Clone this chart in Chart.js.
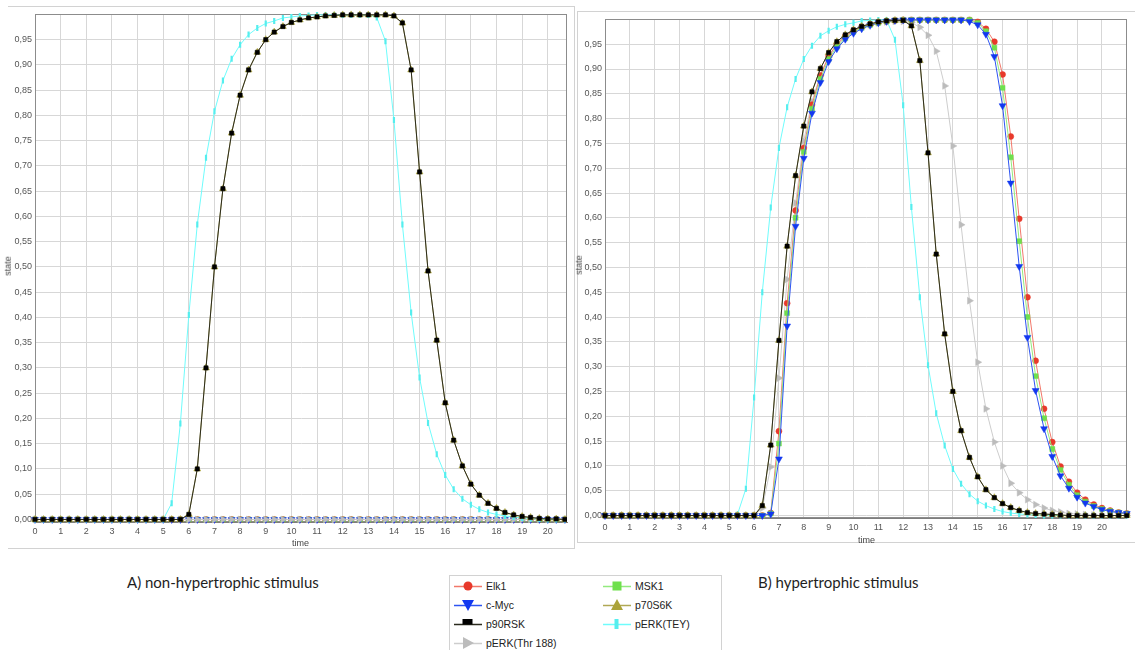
<!DOCTYPE html>
<html>
<head>
<meta charset="utf-8">
<script src="https://cdn.jsdelivr.net/npm/chart.js@4/dist/chart.umd.min.js"></script>
<style>
  html, body { margin: 0; padding: 0; background: #fff; }
  body { width: 1135px; height: 650px; position: relative; overflow: hidden; font-family: "Liberation Sans", Arial, sans-serif; }
  .panel { position: absolute; border: 1px solid #d2d2d2; box-sizing: border-box; }
  #panelA { left: 8px; top: 6px; width: 567px; height: 543px; border-left: none; }
  #panelB { left: 577px; top: 11px; width: 560px; height: 532px; border-right: none; }
  canvas { position: absolute; }
  .axisTitle { position: absolute; font-size: 9px; color: #444; }
  .stateTitle { transform: rotate(-90deg); transform-origin: center; }
  .caption { position: absolute; font-family: Lato, "Open Sans", sans-serif; font-size: 15px; color: #1e1e1e; top: 573px; }
  #legend { position: absolute; left: 449px; top: 575px; width: 273px; height: 80px; border: 1px solid #d2d2d2; box-sizing: border-box; }
  .item { position: absolute; font-size: 10.5px; color: #222; height: 14px; line-height: 14px; }
  .item svg { position: absolute; left: 0; top: 0; }
  .item span { position: absolute; left: 32px; top: 0; white-space: nowrap; }
</style>
</head>
<body>
<div class="panel" id="panelA"></div>
<div class="panel" id="panelB"></div>
<canvas id="chartA" width="566" height="542" style="left:8px;top:6px;width:566px;height:542px"></canvas>
<canvas id="chartB" width="556" height="531" style="left:577px;top:11px;width:556px;height:531px"></canvas>

<div class="axisTitle stateTitle" style="left:-2px;top:261px">state</div>
<div class="axisTitle stateTitle" style="left:569px;top:260px">state</div>
<div class="axisTitle" style="left:292px;top:538px">time</div>
<div class="axisTitle" style="left:858px;top:535px">time</div>

<div class="caption" style="left:127px">A) non-hypertrophic stimulus</div>
<div class="caption" style="left:758px">B) hypertrophic stimulus</div>

<div id="legend"></div>

<script>
// time axis (one point every 1/3 time unit)
const time = [0, 0.33, 0.67, 1, 1.33, 1.67, 2, 2.33, 2.67, 3, 3.33, 3.67, 4, 4.33, 4.67, 5,
  5.33, 5.67, 6, 6.33, 6.67, 7, 7.33, 7.67, 8, 8.33, 8.67, 9, 9.33, 9.67, 10, 10.33,
  10.67, 11, 11.33, 11.67, 12, 12.33, 12.67, 13, 13.33, 13.67, 14, 14.33, 14.67, 15, 15.33, 15.67,
  16, 16.33, 16.67, 17, 17.33, 17.67, 18, 18.33, 18.67, 19, 19.33, 19.67, 20, 20.33, 20.67, 21];

const xTicks = [0, 1, 2, 3, 4, 5, 6, 7, 8, 9, 10, 11, 12, 13, 14, 15, 16, 17, 18, 19, 20];
const yTicks = [0, 0.05, 0.1, 0.15, 0.2, 0.25, 0.3, 0.35, 0.4, 0.45, 0.5,
  0.55, 0.6, 0.65, 0.7, 0.75, 0.8, 0.85, 0.9, 0.95];
const yTickLabels = ['0,00', '0,05', '0,10', '0,15', '0,20', '0,25', '0,30', '0,35', '0,40', '0,45', '0,50',
  '0,55', '0,60', '0,65', '0,70', '0,75', '0,80', '0,85', '0,90', '0,95'];

// A) non-hypertrophic stimulus
const zeroA = [0, 0, 0, 0, 0, 0, 0, 0, 0, 0, 0, 0, 0, 0, 0, 0,
  0, 0, 0, 0, 0, 0, 0, 0, 0, 0, 0, 0, 0, 0, 0, 0,
  0, 0, 0, 0, 0, 0, 0, 0, 0, 0, 0, 0, 0, 0, 0, 0,
  0, 0, 0, 0, 0, 0, 0, 0, 0, 0, 0, 0, 0, 0, 0, 0];
const p90RSK_A = [0, 0, 0, 0, 0, 0, 0, 0, 0, 0, 0, 0, 0, 0, 0, 0,
  0, 0, 0.01, 0.10, 0.30, 0.50, 0.655, 0.765, 0.84, 0.89, 0.925, 0.95, 0.965, 0.976, 0.984, 0.989,
  0.993, 0.995, 0.997, 0.998, 0.999, 0.999, 0.999, 0.999, 0.999, 0.999, 0.997, 0.983, 0.89, 0.688, 0.492, 0.355,
  0.231, 0.157, 0.106, 0.070, 0.048, 0.032, 0.022, 0.014, 0.009, 0.006, 0.004, 0.002, 0.001, 0.001, 0, 0];
const p70S6K_A = p90RSK_A;
const pERKTEY_A = [0, 0, 0, 0, 0, 0, 0, 0, 0, 0, 0, 0, 0, 0, 0, 0,
  0.032, 0.19, 0.405, 0.584, 0.716, 0.808, 0.869, 0.912, 0.94, 0.96, 0.973, 0.982, 0.987, 0.993, 0.995, 0.997,
  0.998, 0.999, 0.999, 0.999, 0.999, 0.999, 0.999, 0.999, 0.994, 0.947, 0.791, 0.584, 0.41, 0.281, 0.191, 0.129,
  0.088, 0.060, 0.041, 0.029, 0.020, 0.014, 0.010, 0.007, 0.005, 0.003, 0.002, 0.001, 0, 0, 0, 0];

// B) hypertrophic stimulus
const elk1_B = [0, 0, 0, 0, 0, 0, 0, 0, 0, 0, 0, 0, 0, 0, 0, 0,
  0, 0, 0, 0, 0.005, 0.17, 0.428, 0.615, 0.741, 0.828, 0.887, 0.926, 0.95, 0.966, 0.977, 0.985,
  0.99, 0.994, 0.996, 0.998, 0.999, 0.999, 0.999, 0.999, 0.999, 0.999, 0.999, 0.999, 0.999, 0.995, 0.981, 0.955,
  0.889, 0.764, 0.598, 0.44, 0.312, 0.215, 0.148, 0.099, 0.068, 0.046, 0.032, 0.022, 0.015, 0.010, 0.006, 0.004];
const msk1_B = [0, 0, 0, 0, 0, 0, 0, 0, 0, 0, 0, 0, 0, 0, 0, 0,
  0, 0, 0, 0, 0.004, 0.145, 0.408, 0.60, 0.733, 0.82, 0.88, 0.92, 0.945, 0.962, 0.975, 0.983,
  0.989, 0.993, 0.996, 0.998, 0.999, 0.999, 0.999, 0.999, 0.999, 0.999, 0.999, 0.999, 0.999, 0.993, 0.976, 0.943,
  0.862, 0.722, 0.553, 0.40, 0.281, 0.196, 0.134, 0.092, 0.062, 0.041, 0.028, 0.019, 0.013, 0.009, 0.006, 0.004];
const cMyc_B = [0, 0, 0, 0, 0, 0, 0, 0, 0, 0, 0, 0, 0, 0, 0, 0,
  0, 0, 0, 0, 0.003, 0.114, 0.382, 0.583, 0.72, 0.811, 0.873, 0.915, 0.941, 0.96, 0.972, 0.981,
  0.988, 0.993, 0.996, 0.998, 0.999, 0.999, 0.999, 0.999, 0.999, 0.999, 0.999, 0.999, 0.996, 0.989, 0.97, 0.925,
  0.826, 0.67, 0.502, 0.359, 0.252, 0.175, 0.119, 0.08, 0.055, 0.037, 0.025, 0.018, 0.012, 0.008, 0.006, 0.004];
const p90RSK_B = [0, 0, 0, 0, 0, 0, 0, 0, 0, 0, 0, 0, 0, 0, 0, 0,
  0, 0, 0, 0.02, 0.142, 0.353, 0.543, 0.685, 0.785, 0.854, 0.901, 0.933, 0.955, 0.969, 0.979, 0.986,
  0.991, 0.995, 0.997, 0.998, 0.998, 0.987, 0.917, 0.731, 0.527, 0.366, 0.25, 0.171, 0.117, 0.078, 0.052, 0.036,
  0.024, 0.016, 0.010, 0.006, 0.004, 0.003, 0.002, 0.001, 0, 0, 0, 0, 0, 0, 0, 0];
const p70S6K_B = p90RSK_B;
const pERKTEY_B = [0, 0, 0, 0, 0, 0, 0, 0, 0, 0, 0, 0, 0, 0, 0, 0,
  0.002, 0.054, 0.238, 0.45, 0.621, 0.741, 0.823, 0.88, 0.92, 0.947, 0.967, 0.977, 0.985, 0.99, 0.993, 0.997,
  0.998, 0.999, 0.999, 0.959, 0.827, 0.622, 0.44, 0.303, 0.206, 0.141, 0.094, 0.064, 0.043, 0.029, 0.020, 0.013,
  0.008, 0.005, 0.003, 0.002, 0.001, 0, 0, 0, 0, 0, 0, 0, 0, 0, 0, 0];
const pERKThr188_B = [0, 0, 0, 0, 0, 0, 0, 0, 0, 0, 0, 0, 0, 0, 0, 0,
  0, 0, 0, 0.015, 0.098, 0.277, 0.476, 0.63, 0.755, 0.835, 0.888, 0.924, 0.948, 0.964, 0.976, 0.984,
  0.989, 0.993, 0.995, 0.996, 0.996, 0.994, 0.984, 0.968, 0.936, 0.866, 0.745, 0.586, 0.433, 0.309, 0.215, 0.148,
  0.10, 0.065, 0.046, 0.032, 0.022, 0.015, 0.010, 0.007, 0.004, 0.003, 0.002, 0.001, 0, 0, 0, 0];

// series styles (legend order)
const styles = {
  'Elk1':         { line: '#f2786a', mark: '#e8392b', shape: 'circle',   rot: 0,   r: 3 },
  'MSK1':         { line: '#93ea7e', mark: '#6fe04d', shape: 'rect',     rot: 0,   r: 3.5 },
  'c-Myc':        { line: '#2e54f2', mark: '#1238f0', shape: 'triangle', rot: 180, r: 4 },
  'p70S6K':       { line: '#b0a855', mark: '#aba33a', shape: 'triangle', rot: 0,   r: 4 },
  'p90RSK':       { line: '#2b2b1e', mark: '#000000', shape: 'rect',     rot: 0,   r: 3 },
  'pERK(TEY)':    { line: '#6ffcfc', mark: '#55eeee', shape: 'line',     rot: 90,  r: 3 },
  'pERK(Thr188)': { line: '#cdcdcd', mark: '#bcbcbc', shape: 'triangle', rot: 90,  r: 4 }
};

function series(name, values, order) {
  const s = styles[name];
  return {
    label: name,
    data: values.map((v, i) => ({ x: time[i], y: v })),
    borderColor: s.line,
    borderWidth: 1,
    pointStyle: s.shape,
    pointRotation: s.rot,
    pointRadius: s.r,
    pointBackgroundColor: s.mark,
    pointBorderColor: s.mark,
    pointBorderWidth: s.shape === 'line' ? 2.2 : 0.5,
    tension: 0,
    order: order
  };
}

// plot frame around chart area
const framePlugin = {
  id: 'frame',
  beforeDatasetsDraw(chart) {
    const { ctx, chartArea: a } = chart;
    ctx.save();
    ctx.strokeStyle = '#8c8c8c';
    ctx.lineWidth = 1;
    ctx.strokeRect(Math.round(a.left) + 0.5, Math.round(a.top) + 0.5,
      Math.round(a.right - a.left) - 1, Math.round(a.bottom - a.top) - 1);
    ctx.restore();
  }
};

function makeOptions(xMax, yWidth, xHeight, padding) {
  const tickFont = { family: 'Liberation Sans', size: 9 };
  return {
    animation: false,
    responsive: false,
    events: [],
    layout: { padding: padding },
    plugins: { legend: { display: false }, tooltip: { enabled: false } },
    scales: {
      x: {
        type: 'linear', min: 0, max: xMax,
        afterBuildTicks: s => { s.ticks = xTicks.map(v => ({ value: v })); },
        afterFit: s => { s.height = xHeight; },
        grid: { color: '#d7d7d7', drawTicks: false },
        border: { color: '#7d7d7d' },
        ticks: { padding: 4, color: '#555', font: tickFont, maxRotation: 0, autoSkip: false }
      },
      y: {
        type: 'linear', min: -0.005, max: 1.0,
        afterBuildTicks: s => { s.ticks = yTicks.map(v => ({ value: v })); },
        afterFit: s => { s.width = yWidth; },
        grid: { color: '#d7d7d7', drawTicks: false },
        border: { color: '#6f6f6f' },
        ticks: {
          padding: 3, color: '#555', font: tickFont, autoSkip: false,
          callback: v => yTickLabels[yTicks.indexOf(v)]
        }
      }
    }
  };
}

const clipA = { left: 5, top: 6, right: 0, bottom: 8 };
const dataA = [
  series('p90RSK', p90RSK_A, 1),
  series('p70S6K', p70S6K_A, 2),
  series('pERK(TEY)', pERKTEY_A, 3),
  series('pERK(Thr188)', zeroA, 4),
  series('c-Myc', zeroA, 5),
  series('MSK1', zeroA, 6),
  series('Elk1', zeroA, 7)
];
dataA.forEach(d => d.clip = clipA);

new Chart(document.getElementById('chartA'), {
  type: 'line',
  data: { datasets: dataA },
  options: makeOptions(20.75, 27, 26, { left: 0, top: 6.5, right: 7, bottom: 0 }),
  plugins: [framePlugin]
});

const clipB = { left: 5, top: 6, right: 6, bottom: 8 };
const dataB = [
  series('p90RSK', p90RSK_B, 1),
  series('p70S6K', p70S6K_B, 2),
  series('c-Myc', cMyc_B, 3),
  series('MSK1', msk1_B, 4),
  series('Elk1', elk1_B, 5),
  series('pERK(TEY)', pERKTEY_B, 6),
  series('pERK(Thr188)', pERKThr188_B, 7)
];
dataB.forEach(d => d.clip = clipB);

new Chart(document.getElementById('chartB'), {
  type: 'line',
  data: { datasets: dataB },
  options: makeOptions(21, 28, 24, { left: 0, top: 6.3, right: 3, bottom: 0 }),
  plugins: [framePlugin]
});

// legend (two columns, same order as the original)
const legendLayout = [
  ['Elk1', 0, 0], ['MSK1', 1, 0],
  ['c-Myc', 0, 1], ['p70S6K', 1, 1],
  ['p90RSK', 0, 2], ['pERK(TEY)', 1, 2],
  ['pERK(Thr 188)', 0, 3]
];

function icon(name) {
  const s = styles[name.replace(' ', '')];
  let m = '';
  const c = s.mark;
  if (s.shape === 'circle') m = `<circle cx="14" cy="7" r="4.5" fill="${c}"/>`;
  else if (name === 'MSK1') m = `<rect x="9.5" y="2.5" width="9" height="9" fill="${c}"/>`;
  else if (name === 'p90RSK') m = `<rect x="8.5" y="2" width="10" height="5.5" fill="${c}"/>`;
  else if (name === 'c-Myc') m = `<polygon points="8,2 20,2 14,13" fill="${c}"/>`;
  else if (name === 'p70S6K') m = `<polygon points="8,12 20,12 14,1" fill="${c}"/>`;
  else if (s.shape === 'line') m = `<rect x="11.5" y="2" width="4" height="10" fill="${c}"/>`;
  else m = `<polygon points="9,1 9,13 20,7" fill="${c}"/>`;
  return `<svg width="28" height="14"><line x1="0" y1="7.5" x2="28" y2="7.5" stroke="${s.line}" stroke-width="1.5"/>${m}</svg>`;
}

const legend = document.getElementById('legend');
legendLayout.forEach(([name, col, row]) => {
  const el = document.createElement('div');
  el.className = 'item';
  el.style.left = (col === 0 ? 4 : 153) + 'px';
  el.style.top = (3 + row * 19) + 'px';
  el.innerHTML = icon(name) + `<span>${name}</span>`;
  legend.appendChild(el);
});
</script>
</body>
</html>
